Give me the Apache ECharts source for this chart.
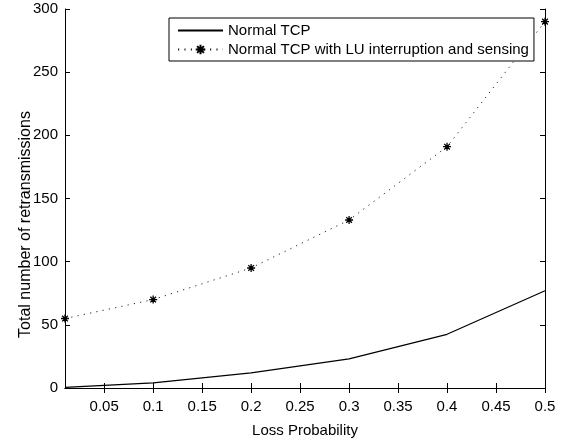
<!DOCTYPE html>
<html>
<head>
<meta charset="utf-8">
<script src="https://cdn.jsdelivr.net/npm/echarts@6/dist/echarts.min.js"></script>
<style>
  html, body { margin: 0; padding: 0; background: #fff; }
  #chart { width: 566px; height: 439px; }
</style>
</head>
<body>
<div id="chart"></div>
<script>
// Loss probabilities at which the runs were made
const lossProb = [0.01, 0.1, 0.2, 0.3, 0.4, 0.5];
// Total retransmissions per configuration
const normalTcp = [0.5, 4, 12, 23, 42.5, 77];
const luTcp = [55, 70, 95, 133, 191, 290];
// Axis tick labels
const xTicks = [0.05, 0.1, 0.15, 0.2, 0.25, 0.3, 0.35, 0.4, 0.45, 0.5];
const seriesNames = ['Normal TCP', 'Normal TCP with LU interruption and sensing'];

const FONT = '"Liberation Sans", Arial, Helvetica, sans-serif';
const asterisk = 'path://M5 0L5 10M0 5L10 5M1.46 1.46L8.54 8.54M1.46 8.54L8.54 1.46';

const chart = echarts.init(document.getElementById('chart'), null, { renderer: 'canvas' });

const axisLine = { show: true, lineStyle: { color: '#000', width: 1 } };

chart.setOption({
  animation: false,
  backgroundColor: '#fff',
  textStyle: { fontFamily: FONT, color: '#000' },
  grid: { left: 65, right: 21, top: 9, bottom: 51, outerBoundsMode: 'none', containLabel: false },
  legend: {
    orient: 'vertical',
    left: 169,
    top: 18,
    data: [
      // plain line sample, no marker
      { name: seriesNames[0], itemStyle: { opacity: 0, color: 'rgba(0,0,0,0)', borderWidth: 0 } },
      { name: seriesNames[1] }
    ],
    backgroundColor: '#fff',
    borderColor: '#000',
    borderWidth: 1,
    borderRadius: 0,
    padding: [5, 5, 4, 8],
    itemWidth: 45,
    itemHeight: 12,
    itemGap: 4,
    textStyle: { fontFamily: FONT, fontSize: 15, color: '#000' }
  },
  xAxis: [
    {
      type: 'value', position: 'bottom', min: 0.01, max: 0.5,
      axisLine: axisLine,
      axisTick: { show: true, inside: true, length: 5, customValues: xTicks, lineStyle: { color: '#000' } },
      axisLabel: { customValues: xTicks, fontSize: 15, color: '#000', margin: 11, fontFamily: FONT },
      splitLine: { show: false },
      name: 'Loss Probability', nameLocation: 'middle', nameGap: 35, nameMoveOverlap: false,
      nameTextStyle: { fontSize: 15, color: '#000', fontFamily: FONT }
    },
    {
      type: 'value', position: 'top', min: 0.01, max: 0.5,
      axisLine: axisLine,
      axisTick: { show: true, inside: true, length: 5, customValues: xTicks, lineStyle: { color: '#000' } },
      axisLabel: { show: false },
      splitLine: { show: false }
    }
  ],
  yAxis: [
    {
      type: 'value', position: 'left', min: 0, max: 300, interval: 50,
      axisLine: axisLine,
      axisTick: { show: true, inside: true, length: 5, lineStyle: { color: '#000' } },
      axisLabel: { fontSize: 15, color: '#000', margin: 7, fontFamily: FONT },
      splitLine: { show: false },
      name: 'Total number of retransmissions', nameLocation: 'middle', nameGap: 31, nameMoveOverlap: false,
      nameTextStyle: { fontSize: 16, color: '#000', fontFamily: FONT, padding: [0, 52, 0, 0] }
    },
    {
      type: 'value', position: 'right', min: 0, max: 300, interval: 50,
      axisLine: axisLine,
      axisTick: { show: true, inside: true, length: 5, lineStyle: { color: '#000' } },
      axisLabel: { show: false },
      splitLine: { show: false }
    }
  ],
  series: [
    {
      name: seriesNames[0],
      type: 'line',
      data: lossProb.map((x, i) => [x, normalTcp[i]]),
      symbol: 'none',
      lineStyle: { color: '#000', width: 1.2, type: 'solid' },
      itemStyle: { color: '#000' }
    },
    {
      name: seriesNames[1],
      type: 'line',
      data: lossProb.map((x, i) => [x, luTcp[i]]),
      symbol: asterisk,
      symbolSize: 8,
      showAllSymbol: true,
      clip: false,
      lineStyle: { color: '#222', width: 1, type: [1.2, 5.2] },
      itemStyle: { color: 'rgba(0,0,0,0)', borderColor: '#000', borderWidth: 1.3 }
    }
  ]
});
</script>
</body>
</html>
